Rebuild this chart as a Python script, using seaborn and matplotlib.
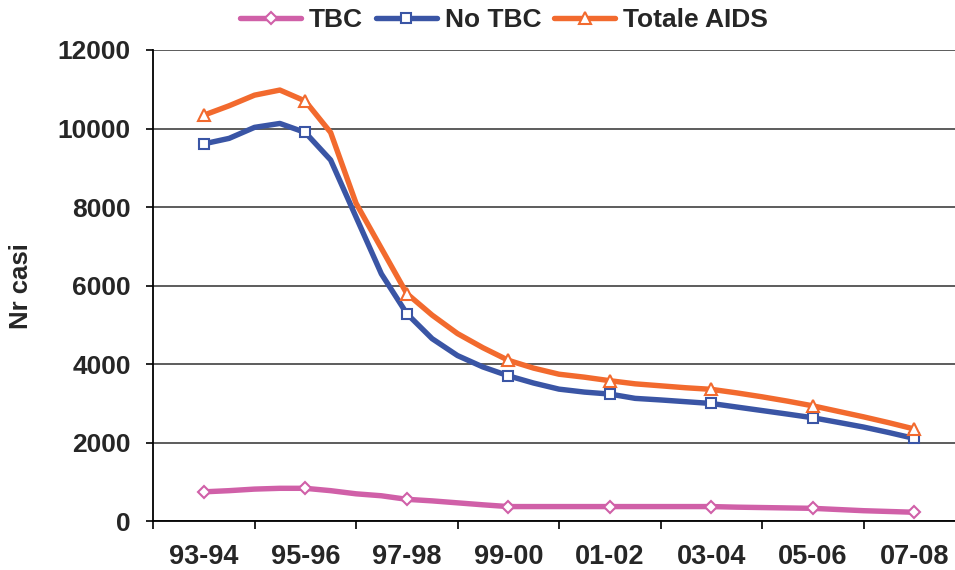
import matplotlib
matplotlib.use("Agg")
import matplotlib.pyplot as plt
import numpy as np
import pandas as pd
import seaborn as sns

# period labels (one every two years) and values read every quarter of a period
periods = ["93-94", "95-96", "97-98", "99-00", "01-02", "03-04", "05-06", "07-08"]

tbc = [750, 780, 820, 840, 840, 780, 700, 650,
       560, 520, 470, 420, 375, 375, 375, 375,
       375, 375, 375, 375, 375, 360, 350, 340,
       330, 300, 270, 250, 230]

no_tbc = [9610, 9750, 10030, 10130, 9900, 9200, 7750, 6300,
          5290, 4650, 4220, 3930, 3705, 3520, 3365, 3290,
          3240, 3130, 3090, 3045, 3000, 2910, 2820, 2730,
          2637, 2520, 2400, 2260, 2110]

totale = [10340, 10580, 10850, 10980, 10700, 9900, 8100, 6950,
          5800, 5250, 4780, 4420, 4100, 3900, 3745, 3670,
          3580, 3500, 3450, 3400, 3360, 3270, 3170, 3060,
          2940, 2800, 2660, 2510, 2350]

series = ["TBC", "No TBC", "Totale AIDS"]
colors = {"TBC": "#D060A8", "No TBC": "#3A55A5", "Totale AIDS": "#F26A2E"}
markers = {"TBC": "D", "No TBC": "s", "Totale AIDS": "^"}
msizes = {"TBC": 6.5, "No TBC": 7, "Totale AIDS": 8.5}

pos = np.arange(len(tbc)) * 0.25
df = pd.DataFrame({"pos": pos, "TBC": tbc, "No TBC": no_tbc, "Totale AIDS": totale})
long = df.melt(id_vars="pos", var_name="serie", value_name="casi")

sns.set_style("white")
plt.rcParams["font.family"] = ["Liberation Sans", "DejaVu Sans"]
plt.rcParams["font.weight"] = "bold"

fig = plt.figure(figsize=(9.55, 5.7), dpi=100)
ax = fig.add_axes([153 / 955, 1 - 521.3 / 570, 812 / 955, 471.3 / 570])

for name in series:
    sns.lineplot(
        data=long[long["serie"] == name],
        x="pos",
        y="casi",
        color=colors[name],
        linewidth=3.9,
        marker=markers[name],
        markersize=msizes[name],
        markerfacecolor="white",
        markeredgecolor=colors[name],
        markeredgewidth=1.5,
        markevery=4,
        label=name,
        errorbar=None,
        ax=ax,
    )

ax.set_xlim(-0.5, 7.5)
ax.set_ylim(0, 12000)
ax.set_yticks(range(0, 12001, 2000))
ax.yaxis.grid(True, color="#303030", linewidth=1.1)
ax.set_axisbelow(True)

ax.set_xticks(np.arange(-0.5, 8, 1))
ax.set_xticklabels([])
ax.set_xticks(range(len(periods)), minor=True)
ax.set_xticklabels(periods, minor=True, fontsize=19.5, fontweight="bold")
ax.tick_params(axis="x", which="major", direction="out", length=6, width=1.2,
               color="black", bottom=True)
ax.tick_params(axis="x", which="minor", length=0, pad=16)
ax.tick_params(axis="y", direction="out", length=5, width=1.2, color="black",
               left=True, pad=11, labelsize=19)
for lab in ax.get_yticklabels():
    lab.set_fontweight("bold")

for side in ["top", "right"]:
    ax.spines[side].set_visible(False)
for side in ["left", "bottom"]:
    ax.spines[side].set_color("black")
    ax.spines[side].set_linewidth(1.3)

ax.set_xlabel("")
ax.set_ylabel("Nr casi", fontsize=18.5, fontweight="bold")
ax.yaxis.set_label_coords(-0.148, 0.5)

handles, labels = ax.get_legend_handles_labels()
ax.legend_.remove()
fig.legend(
    handles,
    labels,
    loc="center",
    bbox_to_anchor=(504 / 955, 1 - 20 / 570),
    ncol=3,
    frameon=False,
    handlelength=2.3,
    handletextpad=0.3,
    columnspacing=0.5,
    borderpad=0,
    prop={"weight": "bold", "size": 19},
)

fig.savefig("out.png", dpi=100)
